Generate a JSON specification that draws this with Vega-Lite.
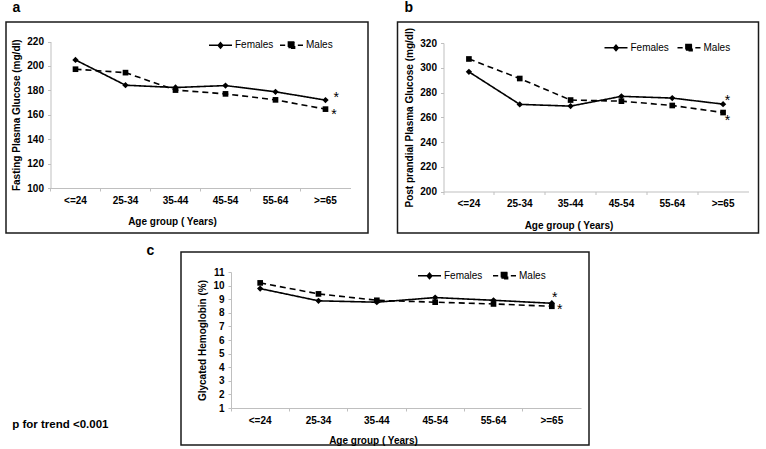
{
  "$schema": "https://vega.github.io/schema/vega-lite/v6.json",
  "background": "white",
  "padding": {"left": 5, "top": 0, "right": 0, "bottom": 0},
  "config": {
    "font": "Liberation Sans",
    "view": {"stroke": "#1a1a1a", "strokeWidth": 1.5},
    "axis": {
      "grid": false,
      "domainColor": "#bfbfbf",
      "tickColor": "#bfbfbf",
      "tickSize": 3,
      "labelFont": "Liberation Sans",
      "labelFontSize": 10,
      "labelFontWeight": "bold",
      "labelColor": "black",
      "titleFont": "Liberation Sans",
      "titleFontSize": 10,
      "titleFontWeight": "bold",
      "titleColor": "black"
    },
    "axisX": {"labelAngle": 0, "labelPadding": 4, "bandPosition": 0, "titleBaseline": "top", "titleY": 28.5},
    "axisY": {"labelPadding": 4, "titlePadding": 5},
    "legend": {
      "title": null,
      "orient": "none",
      "direction": "horizontal",
      "labelFont": "Liberation Sans",
      "labelFontSize": 10,
      "labelColor": "black",
      "labelOffset": 2,
      "padding": 0,
      "symbolSize": 529,
      "symbolType": "M-1,0H1M-0.27,-0.27H0.27V0.27H-0.27Z",
      "symbolFillColor": "black",
      "symbolStrokeColor": "black",
      "symbolStrokeWidth": 1.5
    },
    "title": {"font": "Liberation Sans", "fontSize": 14, "fontWeight": "bold", "color": "black"}
  },
  "title": {
    "text": "p for trend <0.001",
    "orient": "bottom",
    "anchor": "start",
    "fontSize": 11.5,
    "baseline": "alphabetic",
    "offset": 0,
    "dx": 7,
    "dy": -18
  },
  "datasets": {
    "fpg": [
      {"age": "<=24", "sex": "Females", "value": 204.9},
      {"age": "25-34", "sex": "Females", "value": 184.2},
      {"age": "35-44", "sex": "Females", "value": 182.3},
      {"age": "45-54", "sex": "Females", "value": 183.9},
      {"age": "55-64", "sex": "Females", "value": 178.8},
      {"age": ">=65", "sex": "Females", "value": 172.0},
      {"age": "<=24", "sex": "Males", "value": 197.3},
      {"age": "25-34", "sex": "Males", "value": 194.5},
      {"age": "35-44", "sex": "Males", "value": 180.2},
      {"age": "45-54", "sex": "Males", "value": 177.1},
      {"age": "55-64", "sex": "Males", "value": 172.2},
      {"age": ">=65", "sex": "Males", "value": 164.6}
    ],
    "ppg": [
      {"age": "<=24", "sex": "Females", "value": 296.7},
      {"age": "25-34", "sex": "Females", "value": 270.4},
      {"age": "35-44", "sex": "Females", "value": 269.0},
      {"age": "45-54", "sex": "Females", "value": 276.9},
      {"age": "55-64", "sex": "Females", "value": 275.5},
      {"age": ">=65", "sex": "Females", "value": 270.6},
      {"age": "<=24", "sex": "Males", "value": 307.1},
      {"age": "25-34", "sex": "Males", "value": 291.3},
      {"age": "35-44", "sex": "Males", "value": 273.9},
      {"age": "45-54", "sex": "Males", "value": 273.0},
      {"age": "55-64", "sex": "Males", "value": 269.5},
      {"age": ">=65", "sex": "Males", "value": 263.8}
    ],
    "hba1c": [
      {"age": "<=24", "sex": "Females", "value": 9.78},
      {"age": "25-34", "sex": "Females", "value": 8.88},
      {"age": "35-44", "sex": "Females", "value": 8.78},
      {"age": "45-54", "sex": "Females", "value": 9.12},
      {"age": "55-64", "sex": "Females", "value": 8.92},
      {"age": ">=65", "sex": "Females", "value": 8.70},
      {"age": "<=24", "sex": "Males", "value": 10.20},
      {"age": "25-34", "sex": "Males", "value": 9.39},
      {"age": "35-44", "sex": "Males", "value": 8.92},
      {"age": "45-54", "sex": "Males", "value": 8.78},
      {"age": "55-64", "sex": "Males", "value": 8.65},
      {"age": ">=65", "sex": "Males", "value": 8.48}
    ],
    "blank": []
  },
  "resolve": {"scale": {"strokeDash": "independent"}, "legend": {"strokeDash": "independent"}},
  "spacing": 9,
  "vconcat": [
    {
      "spacing": 27.5,
      "resolve": {"scale": {"strokeDash": "independent"}, "legend": {"strokeDash": "independent"}},
      "hconcat": [
        {
          "title": {"text": "a", "anchor": "start", "baseline": "alphabetic", "offset": -4.4, "dx": 6.5},
          "width": 362,
          "height": 211,
          "data": {"name": "fpg"},
          "encoding": {
            "x": {
              "field": "age", "type": "nominal", "sort": null,
              "scale": {"type": "band", "range": [44.5, 344.5], "paddingInner": 0, "paddingOuter": 0},
              "axis": {"title": "Age group ( Years)", "offset": -45, "titleX": 166}
            },
            "y": {
              "field": "value", "type": "quantitative",
              "scale": {"domain": [100, 220], "range": [166, 19.5], "nice": false, "zero": false},
              "axis": {"title": "Fasting Plasma Glucose (mg/dl)", "values": [100, 120, 140, 160, 180, 200, 220], "offset": -44.5}
            }
          },
          "layer": [
            {
              "mark": {"type": "line", "color": "black", "strokeWidth": 1.6},
              "encoding": {
                "strokeDash": {
                  "field": "sex", "type": "nominal",
                  "scale": {"domain": ["Females", "Males"], "range": [[1, 0], [6, 4]]},
                  "legend": {
                    "legendX": 202, "legendY": 10.5, "columnPadding": 3,
                    "encode": {"symbols": {"update": {
                      "shape": {"signal": "datum.value === 'Females' ? 'M-1,0H1M0,-0.24L0.2,0L0,0.24L-0.2,0Z' : 'M-1,0H-0.55M0.55,0H1M-0.27,-0.27H0.27V0.27H-0.27Z'"},
                      "strokeDash": {"value": [1, 0]}
                    }}}
                  }
                }
              }
            },
            {
              "transform": [{"filter": {"field": "sex", "equal": "Females"}}],
              "mark": {"type": "point", "shape": "diamond", "filled": true, "color": "black", "opacity": 1, "size": 40}
            },
            {
              "transform": [{"filter": {"field": "sex", "equal": "Males"}}],
              "mark": {"type": "point", "shape": "square", "filled": true, "color": "black", "opacity": 1, "size": 32}
            },
            {
              "transform": [{"filter": {"field": "age", "equal": ">=65"}}],
              "mark": {"type": "text", "text": "*", "color": "black", "fontSize": 14, "align": "center", "baseline": "alphabetic",
                "dx": {"expr": "datum.sex === 'Females' ? 10.7 : 8.4"}, "dy": {"expr": "datum.sex === 'Females' ? 1.7 : 9.4"}},
              "encoding": {}
            }
          ]
        },
        {
          "title": {"text": "b", "anchor": "start", "baseline": "alphabetic", "offset": -4.4, "dx": 7},
          "width": 361,
          "height": 211,
          "data": {"name": "ppg"},
          "encoding": {
            "x": {
              "field": "age", "type": "nominal", "sort": null,
              "scale": {"type": "band", "range": [46, 351], "paddingInner": 0, "paddingOuter": 0},
              "axis": {"title": "Age group ( Years)", "offset": -41.5, "titleX": 171}
            },
            "y": {
              "field": "value", "type": "quantitative",
              "scale": {"domain": [200, 320], "range": [169.5, 21], "nice": false, "zero": false},
              "axis": {"title": "Post prandial Plasma Glucose (mg/dl)", "values": [200, 220, 240, 260, 280, 300, 320], "offset": -46}
            }
          },
          "layer": [
            {
              "mark": {"type": "line", "color": "black", "strokeWidth": 1.6},
              "encoding": {
                "strokeDash": {
                  "field": "sex", "type": "nominal",
                  "scale": {"domain": ["Females", "Males"], "range": [[1, 0], [6, 4]]},
                  "legend": {
                    "legendX": 206, "legendY": 13, "columnPadding": 5,
                    "encode": {"symbols": {"update": {
                      "shape": {"signal": "datum.value === 'Females' ? 'M-1,0H1M0,-0.24L0.2,0L0,0.24L-0.2,0Z' : 'M-1,0H-0.55M0.55,0H1M-0.27,-0.27H0.27V0.27H-0.27Z'"},
                      "strokeDash": {"value": [1, 0]}
                    }}}
                  }
                }
              }
            },
            {
              "transform": [{"filter": {"field": "sex", "equal": "Females"}}],
              "mark": {"type": "point", "shape": "diamond", "filled": true, "color": "black", "opacity": 1, "size": 40}
            },
            {
              "transform": [{"filter": {"field": "sex", "equal": "Males"}}],
              "mark": {"type": "point", "shape": "square", "filled": true, "color": "black", "opacity": 1, "size": 32}
            },
            {
              "transform": [{"filter": {"field": "age", "equal": ">=65"}}],
              "mark": {"type": "text", "text": "*", "color": "black", "fontSize": 14, "align": "center", "baseline": "alphabetic",
                "dx": 4.4, "dy": {"expr": "datum.sex === 'Females' ? 1.3 : 12.4"}},
              "encoding": {}
            }
          ]
        }
      ]
    },
    {
      "spacing": 20,
      "resolve": {"scale": {"strokeDash": "independent"}, "legend": {"strokeDash": "independent"}},
      "hconcat": [
        {
          "width": 119,
          "height": 20,
          "view": {"stroke": null},
          "data": {"name": "blank"},
          "mark": "point"
        },
        {
          "title": {"text": "c", "orient": "left", "anchor": "end", "angle": 0, "align": "right", "baseline": "alphabetic", "offset": 19, "dy": 3},
          "width": 408,
          "height": 193,
          "data": {"name": "hba1c"},
          "encoding": {
            "x": {
              "field": "age", "type": "nominal", "sort": null,
              "scale": {"type": "band", "range": [50, 400], "paddingInner": 0, "paddingOuter": 0},
              "axis": {"title": "Age group ( Years)", "offset": -37, "titleX": 192, "titleY": 27}
            },
            "y": {
              "field": "value", "type": "quantitative",
              "scale": {"domain": [1, 11], "range": [156, 20], "nice": false, "zero": false},
              "axis": {"title": "Glycated Hemoglobin (%)", "values": [1, 2, 3, 4, 5, 6, 7, 8, 9, 10, 11], "offset": -50}
            }
          },
          "layer": [
            {
              "mark": {"type": "line", "color": "black", "strokeWidth": 1.6},
              "encoding": {
                "strokeDash": {
                  "field": "sex", "type": "nominal",
                  "scale": {"domain": ["Females", "Males"], "range": [[1, 0], [6, 4]]},
                  "legend": {
                    "legendX": 236, "legendY": 11, "columnPadding": 7,
                    "encode": {"symbols": {"update": {
                      "shape": {"signal": "datum.value === 'Females' ? 'M-1,0H1M0,-0.24L0.2,0L0,0.24L-0.2,0Z' : 'M-1,0H-0.55M0.55,0H1M-0.27,-0.27H0.27V0.27H-0.27Z'"},
                      "strokeDash": {"value": [1, 0]}
                    }}}
                  }
                }
              }
            },
            {
              "transform": [{"filter": {"field": "sex", "equal": "Females"}}],
              "mark": {"type": "point", "shape": "diamond", "filled": true, "color": "black", "opacity": 1, "size": 40}
            },
            {
              "transform": [{"filter": {"field": "sex", "equal": "Males"}}],
              "mark": {"type": "point", "shape": "square", "filled": true, "color": "black", "opacity": 1, "size": 32}
            },
            {
              "transform": [{"filter": {"field": "age", "equal": ">=65"}}],
              "mark": {"type": "text", "text": "*", "color": "black", "fontSize": 14, "align": "center", "baseline": "alphabetic",
                "dx": {"expr": "datum.sex === 'Females' ? 3 : 8"}, "dy": {"expr": "datum.sex === 'Females' ? -1.4 : 7.3"}},
              "encoding": {}
            }
          ]
        }
      ]
    }
  ]
}
